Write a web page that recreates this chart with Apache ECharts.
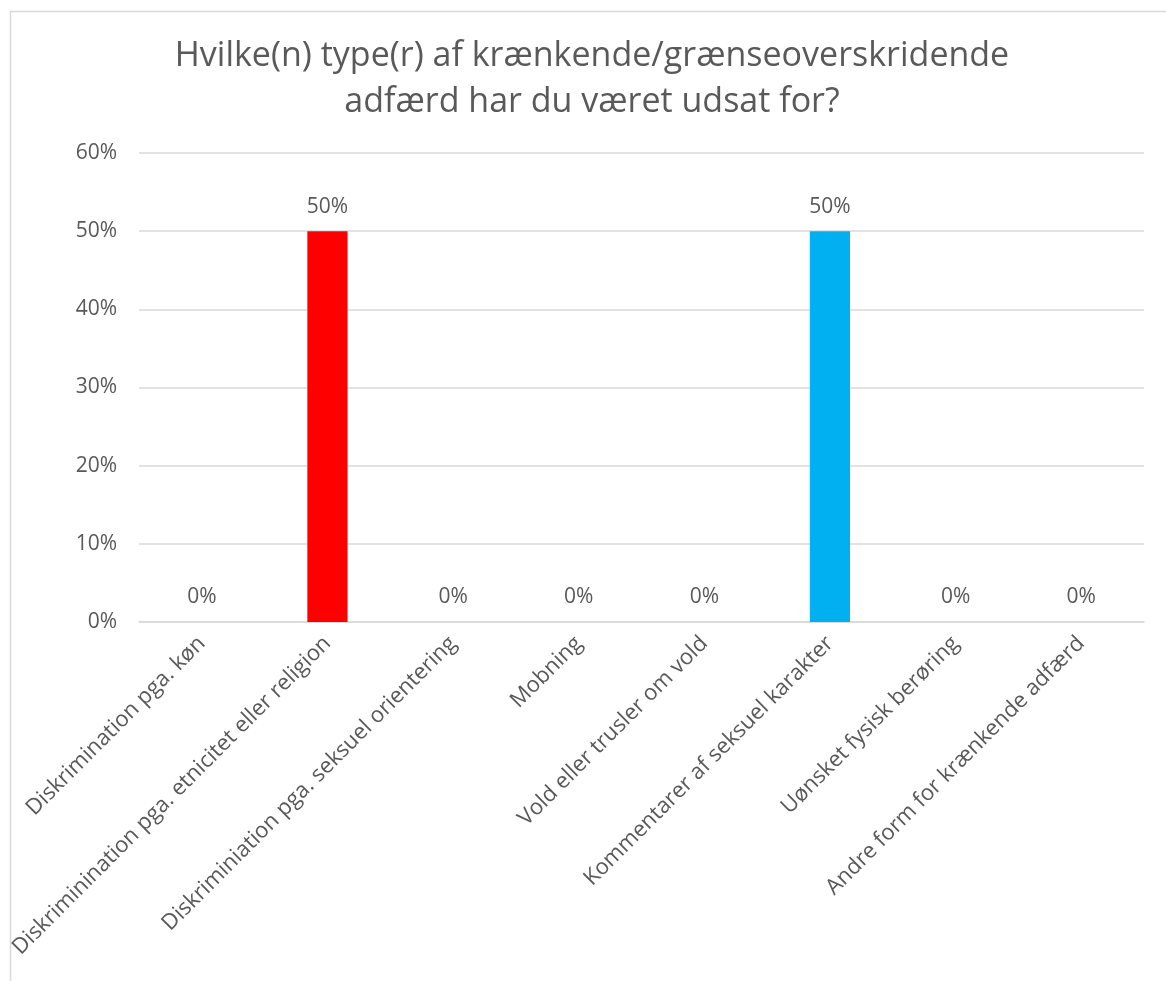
<!DOCTYPE html>
<html>
<head>
<meta charset="utf-8">
<script src="https://cdn.jsdelivr.net/npm/echarts@6/dist/echarts.min.js"></script>
<style>
html,body{margin:0;padding:0;background:#fff;}
#chart{width:1166px;height:981px;}
</style>
</head>
<body>
<div id="chart"></div>
<script>
const titleText = "Hvilke(n) type(r) af krænkende/grænseoverskridende\nadfærd har du været udsat for?";
const categories = [
  "Diskrimination pga. køn",
  "Diskriminination pga. etnicitet eller religion",
  "Diskriminiation pga. seksuel orientering",
  "Mobning",
  "Vold eller trusler om vold",
  "Kommentarer af seksuel karakter",
  "Uønsket fysisk berøring",
  "Andre form for krænkende adfærd"
];
const values = [0, 0.5, 0, 0, 0, 0.5, 0, 0];
const barColors = ["#4472C4", "#FF0000", "#4472C4", "#4472C4", "#4472C4", "#00B0F0", "#4472C4", "#4472C4"];

const FONT = "Open Sans";
const TXT = "#595959";

const chart = echarts.init(document.getElementById('chart'), null, {renderer: 'canvas'});
chart.setOption({
  animation: false,
  backgroundColor: '#fff',
  graphic: [{
    type: 'rect', left: 8, top: 9,
    shape: {width: 1200, height: 1000},
    style: {fill: 'none', stroke: '#d9d9d9', lineWidth: 1.5},
    silent: true
  }],
  title: {
    text: titleText,
    left: 587, top: 28,
    textAlign: 'center',
    textStyle: {fontFamily: FONT, fontSize: 34, fontWeight: 'normal', color: TXT, lineHeight: 46}
  },
  grid: {left: 139, right: 22, top: 153, bottom: 359, containLabel: false},
  xAxis: {
    type: 'category',
    data: categories,
    axisLine: {lineStyle: {color: '#d9d9d9', width: 1.5}},
    axisTick: {show: false},
    axisLabel: {rotate: 45, interval: 0, fontFamily: FONT, fontSize: 22, color: TXT, margin: 18}
  },
  yAxis: {
    type: 'value',
    min: 0, max: 0.6, interval: 0.1,
    axisLine: {show: false},
    axisTick: {show: false},
    splitLine: {lineStyle: {color: '#d9d9d9', width: 1.5}},
    axisLabel: {
      fontFamily: FONT, fontSize: 21, color: TXT, margin: 22,
      formatter: v => Math.round(v * 100) + '%'
    }
  },
  series: [{
    type: 'bar',
    barWidth: '32%',
    data: values.map((v, i) => ({value: v, itemStyle: {color: barColors[i]}})),
    label: {
      show: true, position: 'top', distance: 14,
      fontFamily: FONT, fontSize: 21, color: TXT,
      formatter: p => Math.round(p.value * 100) + '%'
    }
  }]
});
</script>
</body>
</html>
